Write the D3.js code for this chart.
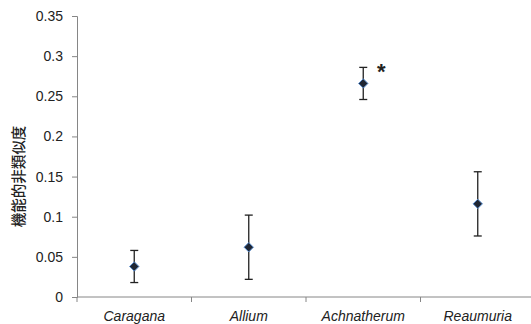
<!DOCTYPE html>
<html>
<head>
<meta charset="utf-8">
<script src="https://cdn.jsdelivr.net/npm/d3@7"></script>
<style>
  body { margin: 0; background: #fff; }
  svg { display: block; font-family: "Liberation Sans", "Open Sans", sans-serif; }
</style>
</head>
<body>
<div id="chart"></div>
<script>
// data
const genera = ['Caragana', 'Allium', 'Achnatherum', 'Reaumuria'];
const means = [0.038, 0.062, 0.266, 0.116];
const errors = [0.020, 0.040, 0.020, 0.040];
const marked = ['Achnatherum'];
const yTicks = [0, 0.05, 0.1, 0.15, 0.2, 0.25, 0.3, 0.35];
const yTitle = '機能的非類似度';

const width = 531, height = 324;
const plotLeft = 77, plotRight = 535, plotTop = 16, plotBottom = 297;

const svg = d3.select('#chart').append('svg')
  .attr('width', width)
  .attr('height', height);

const x = d3.scaleBand().domain(genera).range([plotLeft, plotRight]);
const y = d3.scaleLinear().domain([0, 0.35]).range([plotBottom, plotTop]);

const axisColor = '#868686';

// y axis
const yAxis = svg.append('g')
  .attr('transform', `translate(${plotLeft},0)`)
  .call(d3.axisLeft(y).tickValues(yTicks).tickSize(5).tickPadding(9)
    .tickFormat(d => d === 0 ? '0' : String(+d.toFixed(2))));
yAxis.select('.domain').attr('stroke', axisColor);
yAxis.selectAll('.tick line').attr('stroke', axisColor);
yAxis.selectAll('.tick text').attr('font-size', 14).attr('fill', '#222');

// x axis with ticks at category boundaries
const xAxis = svg.append('g')
  .attr('transform', `translate(0,${plotBottom})`);
xAxis.append('line')
  .attr('x1', plotLeft).attr('x2', plotRight)
  .attr('stroke', axisColor);
const bounds = genera.map(g => x(g)).concat([x(genera[genera.length - 1]) + x.bandwidth()]);
xAxis.selectAll('line.tick')
  .data(bounds)
  .enter()
  .append('line')
  .attr('class', 'tick')
  .attr('x1', d => d).attr('x2', d => d)
  .attr('y1', 0).attr('y2', 5)
  .attr('stroke', axisColor);
xAxis.selectAll('text')
  .data(genera)
  .enter()
  .append('text')
  .attr('x', d => x(d) + x.bandwidth() / 2)
  .attr('y', 24)
  .attr('text-anchor', 'middle')
  .attr('font-size', 14)
  .attr('font-style', 'italic')
  .attr('fill', '#222')
  .text(d => d);

// y title
svg.append('text')
  .attr('transform', `translate(24,${(plotTop + plotBottom) / 2 + 20}) rotate(-90)`)
  .attr('text-anchor', 'middle')
  .attr('font-family', '"Noto Sans CJK JP", sans-serif')
  .attr('font-size', 14.5)
  .attr('font-weight', 500)
  .attr('fill', '#222')
  .text(yTitle);

// error bars
const rows = genera.map((g, i) => ({ g, m: means[i], e: errors[i] }));
const cx = d => x(d.g) + x.bandwidth() / 2;
const cap = 4;

const bars = svg.append('g').selectAll('g')
  .data(rows)
  .enter()
  .append('g')
  .attr('stroke', '#222')
  .attr('stroke-width', 1.3);
bars.append('line')
  .attr('x1', cx).attr('x2', cx)
  .attr('y1', d => y(d.m + d.e)).attr('y2', d => y(d.m - d.e));
bars.append('line')
  .attr('x1', d => cx(d) - cap).attr('x2', d => cx(d) + cap)
  .attr('y1', d => y(d.m + d.e)).attr('y2', d => y(d.m + d.e));
bars.append('line')
  .attr('x1', d => cx(d) - cap).attr('x2', d => cx(d) + cap)
  .attr('y1', d => y(d.m - d.e)).attr('y2', d => y(d.m - d.e));

// diamond markers
svg.append('g').selectAll('path')
  .data(rows)
  .enter()
  .append('path')
  .attr('d', d3.symbol(d3.symbolDiamond2, 56))
  .attr('transform', d => `translate(${cx(d)},${y(d.m)})`)
  .attr('fill', '#1f2633')
  .attr('stroke', '#5b8fd0')
  .attr('stroke-width', 1);

// significance mark
svg.append('g').selectAll('text')
  .data(rows.filter(d => marked.includes(d.g)))
  .enter()
  .append('text')
  .attr('x', d => cx(d) + 18)
  .attr('y', d => y(d.m + d.e) + 12)
  .attr('text-anchor', 'middle')
  .attr('font-size', 22)
  .attr('font-weight', 'bold')
  .attr('fill', '#222')
  .text('*');
</script>
</body>
</html>
